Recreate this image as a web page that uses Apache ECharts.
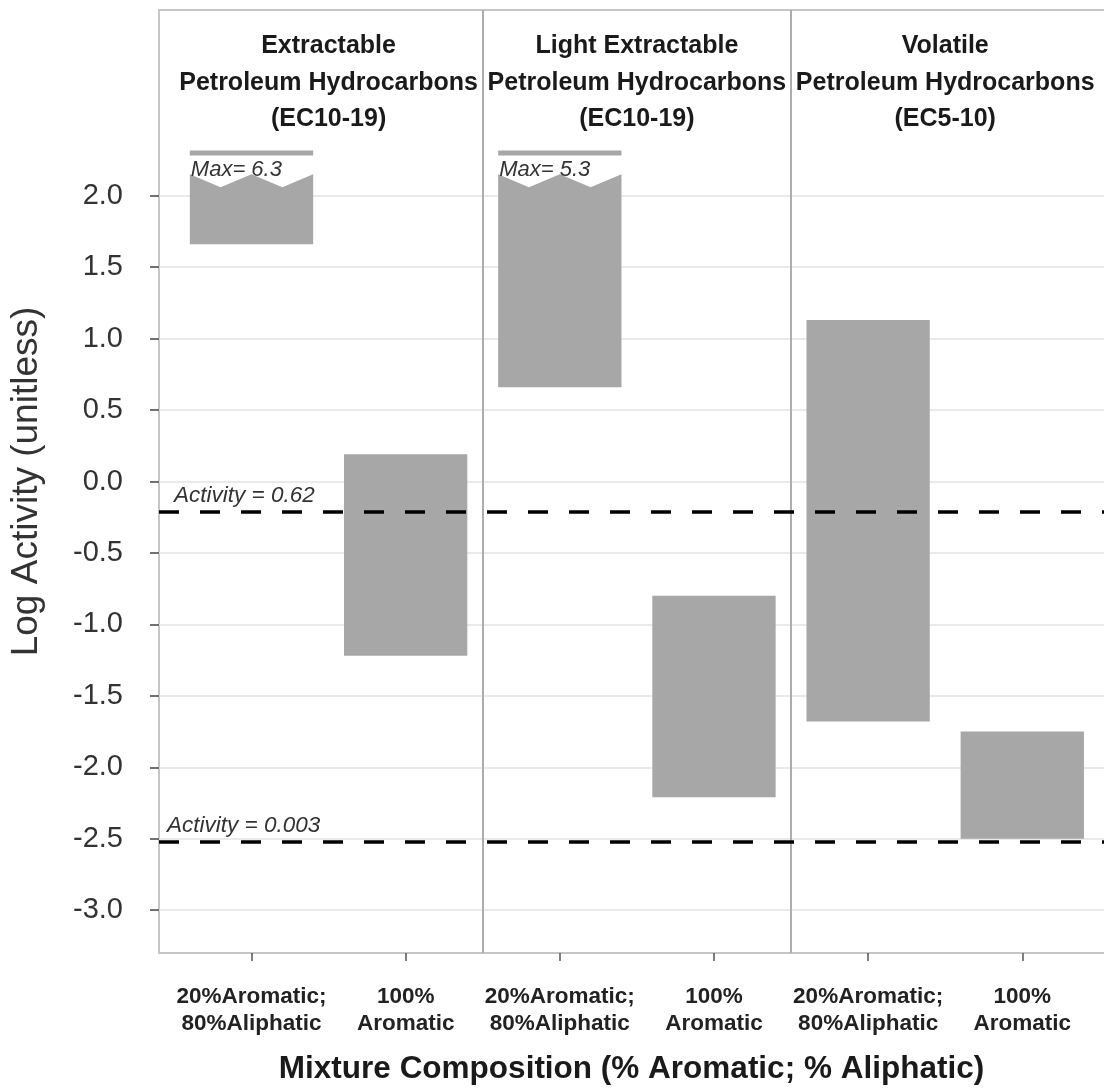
<!DOCTYPE html>
<html>
<head>
<meta charset="utf-8">
<script src="https://cdn.jsdelivr.net/npm/echarts@6/dist/echarts.min.js"></script>
<style>
html,body{margin:0;padding:0;background:#fff;}
#chart{width:1104px;height:1090px;}
</style>
</head>
<body>
<div id="chart"></div>
<script>
// ---- data ----
const categories = ['20%Aromatic;\n80%Aliphatic', '100%\nAromatic', '20%Aromatic;\n80%Aliphatic', '100%\nAromatic', '20%Aromatic;\n80%Aliphatic', '100%\nAromatic'];
const categoryPositions = [1, 2, 3, 4, 5, 6];
const lowValues = [1.66, -1.22, 0.66, -2.21, -1.68, -2.50];
const highValues = [2.15, 0.19, 2.15, -0.80, 1.13, -1.75];
const truncated = [1, 0, 1, 0, 0, 0];
const maxMarkValues = [2.30, null, 2.30, null, null, null];
const maxLabels = ['Max= 6.3', '', 'Max= 5.3', '', '', ''];
const panelTitles = ['Extractable\nPetroleum Hydrocarbons\n(EC10-19)', 'Light Extractable\nPetroleum Hydrocarbons\n(EC10-19)', 'Volatile\nPetroleum Hydrocarbons\n(EC5-10)'];
const panelCenters = [1.5, 3.5, 5.5];
const panelTitleLevel = 2.79;
const panelDividers = [2.5, 4.5];
const thresholdActivities = [0.62, 0.003];
const thresholdLabels = ['Activity = 0.62', 'Activity = 0.003'];
const yTicks = [-3.0, -2.5, -2.0, -1.5, -1.0, -0.5, 0.0, 0.5, 1.0, 1.5, 2.0];

// ---- styles ----
const FONT = '"Liberation Sans", Arial, sans-serif';
const BAR_COLOR = '#a7a7a7';
const HALF_W = 0.4;
const NOTCH_X = 0.2;
const NOTCH_DEPTH = 0.09;

const barData = categoryPositions.map((x, i) => [x, lowValues[i], highValues[i], truncated[i], maxMarkValues[i] == null ? NaN : maxMarkValues[i]]);

function renderBar(params, api) {
  const i = params.dataIndex;
  const x = api.value(0), lo = api.value(1), hi = api.value(2), tr = api.value(3), mx = api.value(4);
  const children = [];
  if (!tr) {
    const a = api.coord([x - HALF_W, hi]);
    const b = api.coord([x + HALF_W, lo]);
    children.push({type: 'rect', shape: {x: a[0], y: a[1], width: b[0] - a[0], height: b[1] - a[1]}, style: {fill: BAR_COLOR}});
  } else {
    const pts = [
      [x - HALF_W, lo], [x - HALF_W, hi], [x - NOTCH_X, hi - NOTCH_DEPTH], [x, hi],
      [x + NOTCH_X, hi - NOTCH_DEPTH], [x + HALF_W, hi], [x + HALF_W, lo]
    ].map(p => api.coord(p));
    children.push({type: 'polygon', shape: {points: pts}, style: {fill: BAR_COLOR}});
    const l = api.coord([x - HALF_W, mx]);
    const r = api.coord([x + HALF_W, mx]);
    children.push({type: 'rect', shape: {x: l[0], y: l[1] - 2.5, width: r[0] - l[0], height: 5}, style: {fill: BAR_COLOR}});
    children.push({type: 'text', x: l[0] + 1, y: l[1] + 6, style: {
      text: maxLabels[i], fill: '#333', font: 'italic 22px ' + FONT, textAlign: 'left', textVerticalAlign: 'top'
    }});
  }
  return {type: 'group', children: children};
}

function renderTitle(params, api) {
  const p = api.coord([api.value(0), api.value(1)]);
  return {type: 'text', x: p[0], y: p[1], style: {
    text: panelTitles[params.dataIndex], fill: '#1a1a1a', font: 'bold 25px ' + FONT,
    textAlign: 'center', textVerticalAlign: 'middle', lineHeight: 36.5
  }};
}

const chart = echarts.init(document.getElementById('chart'), null, {renderer: 'canvas'});

const option = {
  backgroundColor: '#fff',
  animation: false,
  grid: {left: 147, right: 0, top: 10, bottom: 123, containLabel: false},
  xAxis: [{
    type: 'value', min: 0.4, max: 6.53,
    splitLine: {show: false},
    axisLine: {show: true, onZero: false, lineStyle: {color: '#c6c6c6', width: 2}},
    axisTick: {show: true, customValues: categoryPositions, length: 8, lineStyle: {color: '#555', width: 1.5}},
    axisLabel: {
      customValues: categoryPositions,
      formatter: (v) => categories[Math.round(v) - 1],
      fontFamily: FONT, fontWeight: 'bold', fontSize: 22.5, color: '#222', lineHeight: 27, margin: 30
    },
    name: 'Mixture Composition (% Aromatic; % Aliphatic)',
    nameLocation: 'middle', nameGap: 100,
    nameTextStyle: {fontFamily: FONT, fontWeight: 'bold', fontSize: 31.5, color: '#1a1a1a'}
  }, {
    type: 'value', min: 0.4, max: 6.53, position: 'top',
    splitLine: {show: false}, axisTick: {show: false}, axisLabel: {show: false},
    axisLine: {show: true, onZero: false, lineStyle: {color: '#c6c6c6', width: 2}}
  }],
  yAxis: {
    type: 'value', min: -3.3, max: 3.3,
    splitLine: {show: false},
    axisLine: {show: true, onZero: false, lineStyle: {color: '#c6c6c6', width: 2}},
    axisTick: {show: true, customValues: yTicks, length: 9, lineStyle: {color: '#444', width: 1.5}},
    axisLabel: {
      customValues: yTicks, formatter: (v) => v.toFixed(1),
      fontFamily: FONT, fontSize: 29, color: '#333', margin: 36
    },
    name: 'Log Activity (unitless)', nameLocation: 'middle', nameGap: 114,
    nameTextStyle: {fontFamily: FONT, fontSize: 37, color: '#333'}
  },
  series: [
    {
      type: 'line', data: [], z: 1, silent: true,
      markLine: {
        silent: true, symbol: 'none', animation: false, z: 1,
        label: {show: false},
        lineStyle: {color: '#e3e3e3', width: 1.5, type: 'solid'},
        data: yTicks.map(v => ({yAxis: v}))
      }
    },
    {
      type: 'line', data: [], z: 2, silent: true,
      markLine: {
        silent: true, symbol: 'none', animation: false, z: 2,
        label: {show: false},
        lineStyle: {color: '#adadad', width: 2, type: 'solid'},
        data: panelDividers.map(v => ({xAxis: v}))
      }
    },
    {
      type: 'custom', z: 3, renderItem: renderBar, data: barData, silent: true,
      encode: {x: 0, y: [1, 2]}
    },
    {
      type: 'custom', z: 3, renderItem: renderTitle, silent: true,
      data: panelCenters.map(c => [c, panelTitleLevel]), encode: {x: 0, y: 1}
    },
    {
      type: 'line', data: [], z: 5, silent: true,
      markLine: {
        silent: true, symbol: 'none', animation: false, z: 6,
        lineStyle: {color: '#000', width: 3.5, type: [20, 21]},
        label: {show: true, position: 'insideStartTop', fontFamily: FONT, fontStyle: 'italic', fontSize: 22.5, color: '#333'},
        data: thresholdActivities.map((a, i) => ({
          yAxis: Math.log10(a),
          label: {formatter: thresholdLabels[i], distance: i === 0 ? [15, 4] : [8, 4]}
        }))
      }
    }
  ]
};
chart.setOption(option);
</script>
</body>
</html>
